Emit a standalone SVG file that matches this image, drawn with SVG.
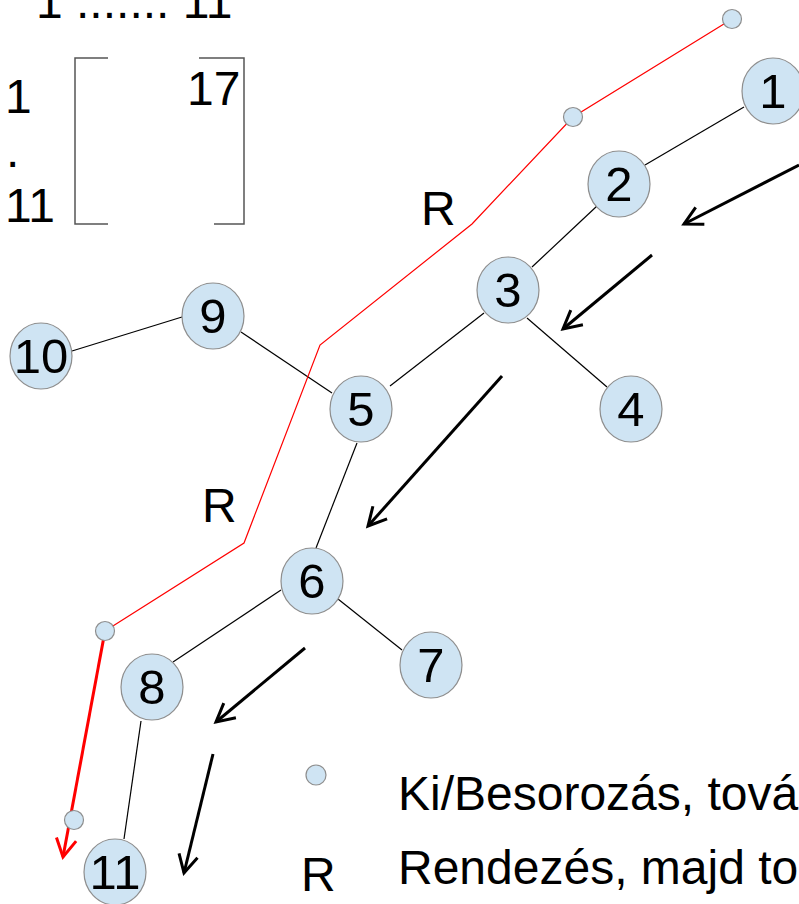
<svg xmlns="http://www.w3.org/2000/svg" width="799" height="904" viewBox="0 0 799 904">
<style>
.nd{fill:#cfe4f3;stroke:#8e8e8e;stroke-width:1.2}
.lb{font-family:"Liberation Sans",Arial,sans-serif;font-size:48px;fill:#000}
.lbm{font-family:"Liberation Sans",Arial,sans-serif;font-size:49px;fill:#000;text-anchor:middle}
.ed{stroke:#000;stroke-width:1.2;fill:none}
.rp{stroke:#ff0000;stroke-width:1.2;fill:none}
.ar{stroke:#000;stroke-width:3;fill:none;marker-end:url(#ah)}
.br{stroke:#555;stroke-width:1.5;fill:none}
</style>
<defs>
<marker id="ah" markerUnits="userSpaceOnUse" orient="auto" markerWidth="30" markerHeight="30" viewBox="-25 -15 30 30" refX="0" refY="0" overflow="visible">
<path d="M-18,-9.5 L0,0 L-18,9.5" stroke="#000" stroke-width="3" fill="none"/>
</marker>
<marker id="ahr" markerUnits="userSpaceOnUse" orient="auto" markerWidth="30" markerHeight="30" viewBox="-25 -15 30 30" refX="0" refY="0" overflow="visible">
<path d="M-18,-10 L0,0 L-18,10" stroke="#ff0000" stroke-width="3" fill="none"/>
</marker>
</defs>
<rect width="799" height="904" fill="#fff"/>

<g id="matrix">
<text class="lb" x="36" y="18">1 ....... 11</text>
<text class="lb" x="5" y="113">1</text>
<text class="lb" x="6" y="167">.</text>
<text class="lb" x="5" y="222">11</text>
<text class="lb" x="187" y="105">17</text>
<path class="br" d="M108,58 H75 V224 H108"/>
<path class="br" d="M199,58 H244 V224 H214"/>
</g>

<g id="connectors">
<line class="ed" x1="744" y1="107" x2="645" y2="165"/>
<line class="ed" x1="597" y1="206" x2="532" y2="267"/>
<line class="ed" x1="484" y1="313" x2="390" y2="386"/>
<line class="ed" x1="527" y1="318" x2="607" y2="387"/>
<line class="ed" x1="72" y1="351" x2="182" y2="317"/>
<line class="ed" x1="241" y1="332" x2="332" y2="393"/>
<line class="ed" x1="357" y1="443" x2="316" y2="548"/>
<line class="ed" x1="281" y1="590" x2="173" y2="662"/>
<line class="ed" x1="338" y1="599" x2="402" y2="650"/>
<line class="ed" x1="141" y1="721" x2="124" y2="839"/>
<polyline class="rp" points="732,19 573,117 472,224 320,345 244,543 105,631"/>
<line x1="105" y1="631" x2="63" y2="857" stroke="#ff0000" stroke-width="3" marker-end="url(#ahr)"/>
<line class="ar" x1="799" y1="165" x2="684" y2="224"/>
<line class="ar" x1="652" y1="255" x2="563" y2="329"/>
<line class="ar" x1="502" y1="376" x2="368" y2="526"/>
<line class="ar" x1="305" y1="648" x2="216" y2="722"/>
<line class="ar" x1="213" y1="754" x2="184" y2="873"/>
</g>

<g id="dots">
<circle class="nd" cx="732" cy="19" r="9.5"/>
<circle class="nd" cx="573" cy="117" r="9.5"/>
<circle class="nd" cx="105" cy="631" r="9.5"/>
<circle class="nd" cx="74" cy="820" r="9.5"/>
</g>

<g id="n1"><ellipse class="nd" cx="773" cy="91" rx="31" ry="33"/><text class="lbm" x="773" y="108">1</text></g>
<g id="n2"><ellipse class="nd" cx="619" cy="184" rx="31" ry="33"/><text class="lbm" x="619" y="201">2</text></g>
<g id="n3"><ellipse class="nd" cx="508" cy="290" rx="31" ry="33"/><text class="lbm" x="508" y="307">3</text></g>
<g id="n4"><ellipse class="nd" cx="631" cy="409" rx="31" ry="33"/><text class="lbm" x="631" y="426">4</text></g>
<g id="n5"><ellipse class="nd" cx="361" cy="409" rx="31" ry="33"/><text class="lbm" x="361" y="426">5</text></g>
<g id="n6"><ellipse class="nd" cx="312" cy="581" rx="31" ry="33"/><text class="lbm" x="312" y="598">6</text></g>
<g id="n7"><ellipse class="nd" cx="431" cy="665" rx="31" ry="33"/><text class="lbm" x="431" y="682">7</text></g>
<g id="n8"><ellipse class="nd" cx="152" cy="687" rx="31" ry="33"/><text class="lbm" x="152" y="704">8</text></g>
<g id="n9"><ellipse class="nd" cx="213" cy="316" rx="31" ry="33"/><text class="lbm" x="213" y="333">9</text></g>
<g id="n10"><ellipse class="nd" cx="41" cy="356" rx="31" ry="33"/><text class="lbm" x="41" y="373">10</text></g>
<g id="n11"><ellipse class="nd" cx="115" cy="872" rx="31" ry="33"/><text class="lbm" x="115" y="889">11</text></g>

<g id="labels">
<text class="lb" x="421" y="225">R</text>
<text class="lb" x="202" y="522">R</text>
</g>

<g id="legend">
<circle class="nd" cx="316" cy="775" r="10"/>
<text class="lb" x="398" y="810">Ki/Besorozás, tová</text>
<text class="lb" x="301" y="891">R</text>
<text class="lb" x="398" y="884">Rendezés, majd to</text>
</g>
</svg>
